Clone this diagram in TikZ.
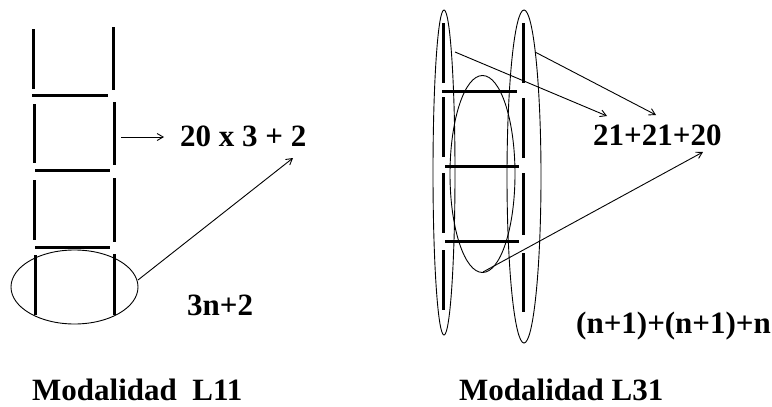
\documentclass[tikz,border=0pt]{standalone}
\usepackage{fontspec}
\setmainfont{Liberation Serif}
\usetikzlibrary{arrows.meta,shapes.geometric}
\begin{document}
\begin{tikzpicture}[x=1pt,y=-1pt,
  bar/.style={line width=3pt},
  thin/.style={line width=0.9pt},
  oval/.style={ellipse,draw,line width=0.9pt,inner sep=0pt},
  conn/.style={thin,-{Straight Barb[length=6pt,width=7pt,line width=0.9pt]}},
  lbl/.style={anchor=base west,inner sep=0pt,font=\fontsize{31}{36}\selectfont\bfseries}]
\useasboundingbox (0,0) rectangle (772,407);
% ---- left ladder (L11)
\draw[bar] (33,29) -- (33,89);
\draw[bar] (34,104) -- (34,163);
\draw[bar] (34,180) -- (34,240);
\draw[bar] (35,255) -- (35,315);
\draw[bar] (113,27) -- (113,90);
\draw[bar] (114,102) -- (114,165);
\draw[bar] (114,178) -- (114,242);
\draw[bar] (114,254) -- (114,315);
\draw[bar] (32,95) -- (108,95);
\draw[bar] (35,170) -- (110,170);
\draw[bar] (35,247) -- (110,247);
\node[oval,minimum width=127pt,minimum height=74pt] (e1) at (74.5,287) {};
\node[lbl] (t1) at (180,146) {20 x 3 + 2};
\node[lbl] (t2) at (187,315) {3n+2};
\node[lbl] (m1) at (32,400) {Modalidad~ L11};
\coordinate (s1) at (121,137);
\coordinate (h1) at (164,137);
\coordinate (s2) at (138,280);
\coordinate (h2) at (293,158);
\draw[conn] (s1) -- (h1);
\draw[conn] (s2) -- (h2);
% ---- right ladder (L31)
\draw[bar] (443,23) -- (443,83);
\draw[bar] (443,97) -- (443,157);
\draw[bar] (443,173) -- (443,233);
\draw[bar] (443,250) -- (443,310);
\draw[bar] (523,23) -- (523,83);
\draw[bar] (523,98) -- (523,158);
\draw[bar] (523,173) -- (523,235);
\draw[bar] (523,253) -- (523,312);
\draw[bar] (442,91) -- (517,91);
\draw[bar] (445,166) -- (519,166);
\draw[bar] (445,241) -- (519,241);
\node[oval,minimum width=22pt,minimum height=325pt] (eL) at (444,172.5) {};
\node[oval,minimum width=34pt,minimum height=333pt] (eR) at (524,176.5) {};
\node[oval,minimum width=65pt,minimum height=197pt] (eM) at (482.5,174) {};
\node[lbl] (t3) at (593,145) {21+21+20};
\node[lbl] (t4) at (576,333) {(n+1)+(n+1)+n};
\node[lbl] (m2) at (459,400) {Modalidad L31};
\coordinate (a1) at (455,52);
\coordinate (b1) at (607,116);
\coordinate (a2) at (535,52);
\coordinate (b2) at (656,115);
\coordinate (a3) at (483,272);
\coordinate (b3) at (703,152);
\draw[conn] (a1) -- (b1);
\draw[conn] (a2) -- (b2);
\draw[conn] (a3) -- (b3);
\end{tikzpicture}
\end{document}
